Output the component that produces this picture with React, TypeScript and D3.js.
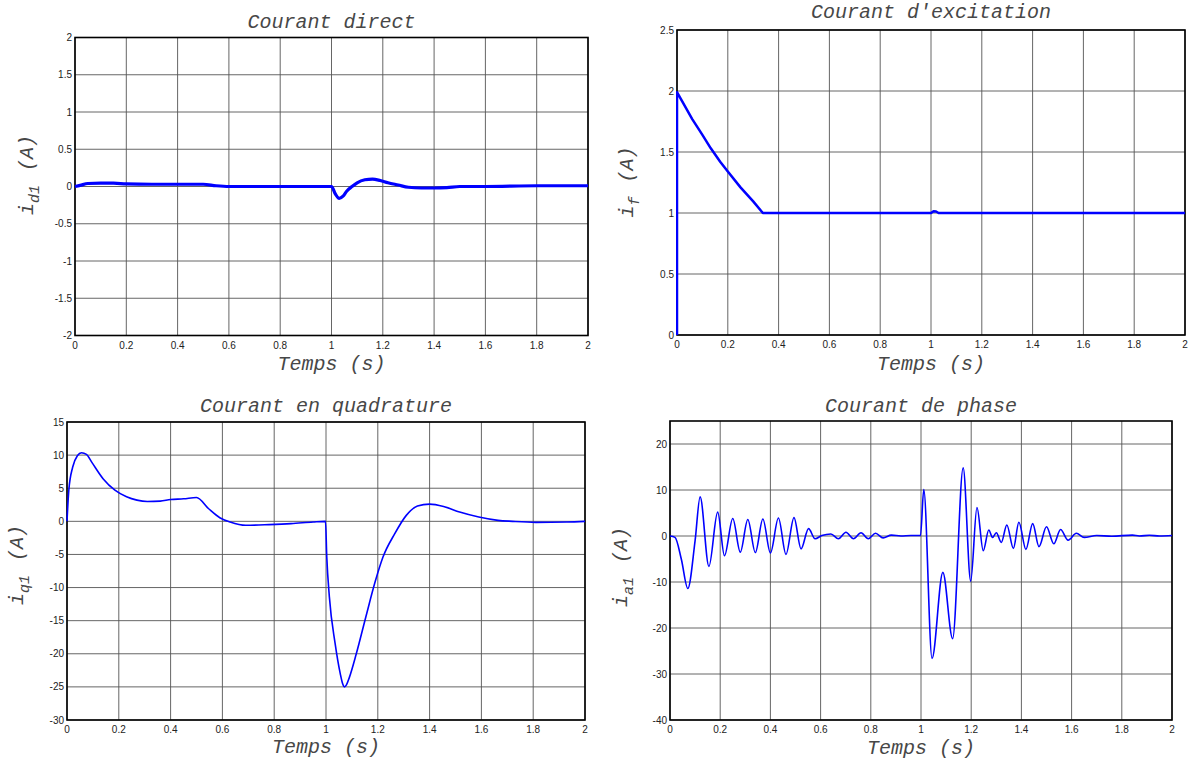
import React from "react";
import * as d3 from "d3";

// ---------- data ----------
const X_TICKS = [0, 0.2, 0.4, 0.6, 0.8, 1, 1.2, 1.4, 1.6, 1.8, 2];

// Courant direct i_d1
const T_D = [0, 0.02, 0.05, 0.1, 0.15, 0.2, 0.3, 0.4, 0.5, 0.55, 0.6, 0.7, 0.8, 0.9, 0.99, 1.0, 1.015, 1.03, 1.045, 1.06, 1.08, 1.1, 1.13, 1.16, 1.19, 1.22, 1.26, 1.3, 1.35, 1.4, 1.45, 1.5, 1.6, 1.8, 2.0];
const I_D = [0, 0.015, 0.04, 0.045, 0.045, 0.035, 0.03, 0.03, 0.03, 0.01, 0.0, 0.0, 0.0, 0.0, 0.0, 0.0, -0.1, -0.16, -0.13, -0.06, 0.0, 0.05, 0.09, 0.1, 0.08, 0.05, 0.02, -0.01, -0.02, -0.02, -0.015, 0, 0.0, 0.01, 0.01];
const Y_TICKS_D = [-2, -1.5, -1, -0.5, 0, 0.5, 1, 1.5, 2];

// Courant d'excitation i_f
const T_F = [0, 0, 0.03, 0.06, 0.1, 0.133, 0.17, 0.2, 0.25, 0.3, 0.338, 0.5, 1.0, 1.01, 1.02, 1.03, 1.2, 1.4, 1.6, 2.0];
const I_F = [0, 1.99, 1.88, 1.77, 1.64, 1.53, 1.42, 1.34, 1.21, 1.095, 1.0, 1.0, 1.0, 1.015, 1.012, 1.0, 1.0, 1.0, 1.0, 1.0];
const Y_TICKS_F = [0, 0.5, 1, 1.5, 2, 2.5];

// Courant en quadrature i_q1
const T_Q = [0, 0.007, 0.022, 0.04, 0.056, 0.075, 0.096, 0.14, 0.185, 0.23, 0.27, 0.31, 0.36, 0.4, 0.45, 0.5, 0.547, 0.59, 0.63, 0.69, 0.78, 0.865, 0.95, 0.998, 1.003, 1.013, 1.035, 1.055, 1.064, 1.071, 1.079, 1.09, 1.117, 1.154, 1.19, 1.22, 1.265, 1.31, 1.353, 1.4, 1.457, 1.516, 1.59, 1.664, 1.72, 1.81, 1.93, 2.0];
const I_Q = [0, 4.7, 8.2, 9.9, 10.35, 10.1, 8.9, 6.4, 4.7, 3.7, 3.2, 3.0, 3.05, 3.3, 3.4, 3.6, 1.9, 0.55, -0.1, -0.6, -0.5, -0.35, -0.1, 0, -5.4, -11.4, -18.4, -23.0, -24.5, -25, -24.7, -23.6, -20, -14.4, -9.1, -5.4, -1.9, 0.9, 2.3, 2.6, 2.2, 1.4, 0.65, 0.15, 0, -0.15, -0.1, 0];
const Y_TICKS_Q = [-30, -25, -20, -15, -10, -5, 0, 5, 10, 15];

// Courant de phase i_a1
const T_A = [0, 0.02, 0.045, 0.071, 0.1, 0.12, 0.155, 0.19, 0.217, 0.25, 0.28, 0.31, 0.34, 0.37, 0.4, 0.432, 0.462, 0.494, 0.522, 0.552, 0.578, 0.605, 0.641, 0.671, 0.701, 0.731, 0.761, 0.79, 0.819, 0.849, 0.882, 0.92, 0.96, 0.998, 1.011, 1.044, 1.087, 1.126, 1.168, 1.198, 1.223, 1.248, 1.27, 1.285, 1.3, 1.32, 1.342, 1.368, 1.39, 1.418, 1.445, 1.47, 1.5, 1.529, 1.556, 1.586, 1.619, 1.65, 1.7, 1.76, 1.842, 1.87, 1.91, 1.95, 2.0];
const I_A = [0, -0.3, -5, -11.4, -1, 8.5, -6.6, 5.2, -4.3, 3.8, -3.5, 3.6, -3.6, 3.7, -3.7, 3.9, -4.0, 4.0, -2.8, 1.6, -0.6, 0.1, 0.45, -0.6, 0.8, -0.6, 0.7, -0.6, 0.6, -0.4, 0.2, 0.0, 0.1, 0.1, 10.1, -26.6, -7.9, -22.3, 14.8, -9.8, 6.2, -3.2, 1.3, -0.3, 0.7, -1.4, 2.4, -2.7, 3.0, -2.9, 2.7, -2.3, 2.0, -1.7, 1.4, -0.9, 0.6, -0.3, 0.1, -0.05, 0.2, 0.0, 0.15, 0.0, 0.1];
const Y_TICKS_A = [-40, -30, -20, -10, 0, 10, 20];

// ---------- layout ----------
type Panel = {
  id: string; left: number; right: number; top: number; bottom: number;
  yDomain: [number, number]; yTicks: number[]; t: number[]; v: number[];
  title: string; sub: string; titleY: number; xlabY: number; ylabX: number; ylabY: number;
  lw: number; curve: any;
};

const panels: Panel[] = [
  { id: "d", left: 75, right: 588, top: 37.5, bottom: 335.5, yDomain: [-2, 2], yTicks: Y_TICKS_D, t: T_D, v: I_D,
    title: "Courant direct", sub: "d1", titleY: 28, xlabY: 370, ylabX: 33, ylabY: 175, lw: 3.2, curve: d3.curveMonotoneX },
  { id: "f", left: 677, right: 1185, top: 30, bottom: 335, yDomain: [0, 2.5], yTicks: Y_TICKS_F, t: T_F, v: I_F,
    title: "Courant d'excitation", sub: "f", titleY: 18, xlabY: 370, ylabX: 633, ylabY: 182, lw: 2.5, curve: d3.curveLinear },
  { id: "q", left: 67, right: 585, top: 422, bottom: 720, yDomain: [-30, 15], yTicks: Y_TICKS_Q, t: T_Q, v: I_Q,
    title: "Courant en quadrature", sub: "q1", titleY: 412, xlabY: 753, ylabX: 23, ylabY: 565, lw: 1.6, curve: d3.curveMonotoneX },
  { id: "a", left: 670, right: 1172, top: 421, bottom: 720, yDomain: [-40, 25], yTicks: Y_TICKS_A, t: T_A, v: I_A,
    title: "Courant de phase", sub: "a1", titleY: 412, xlabY: 754, ylabX: 627, ylabY: 567, lw: 1.6, curve: d3.curveMonotoneX },
];

const LABEL_FONT = "'Liberation Mono', 'Courier New', monospace";
const TICK_FONT = "'Liberation Sans', Arial, sans-serif";
const LABEL_COLOR = "#474747";

function fmt(v: number) {
  return String(Math.round(v * 10) / 10);
}

function PanelView({ p }: { p: Panel }) {
  const x = d3.scaleLinear().domain([0, 2]).range([p.left, p.right]);
  const y = d3.scaleLinear().domain(p.yDomain).range([p.bottom, p.top]);
  const data = p.t.map((t, i) => [t, p.v[i]] as [number, number]);
  const line = d3.line<[number, number]>().x((d) => x(d[0])).y((d) => y(d[1])).curve(p.curve);
  const cx = (p.left + p.right) / 2;
  return (
    <g>
      <defs>
        <clipPath id={"clip-" + p.id}>
          <rect x={p.left - 1} y={p.top} width={p.right - p.left + 1} height={p.bottom - p.top} />
        </clipPath>
      </defs>
      <rect x={p.left} y={p.top} width={p.right - p.left} height={p.bottom - p.top} fill="#fff" />
      {X_TICKS.map((t) => (
        <line key={"gx" + t} x1={x(t)} x2={x(t)} y1={p.top} y2={p.bottom} stroke="#555" strokeWidth={0.9} />
      ))}
      {p.yTicks.map((v) => (
        <line key={"gy" + v} x1={p.left} x2={p.right} y1={y(v)} y2={y(v)} stroke="#555" strokeWidth={0.9} />
      ))}
      <rect x={p.left} y={p.top} width={p.right - p.left} height={p.bottom - p.top} fill="none" stroke="#000" strokeWidth={1.6} />
      <path d={line(data) || ""} fill="none" stroke="#0000ff" strokeWidth={p.lw} strokeLinejoin="round" clipPath={`url(#clip-${p.id})`} />
      {X_TICKS.map((t) => (
        <text key={"tx" + t} x={x(t)} y={p.bottom + 13} textAnchor="middle" fontFamily={TICK_FONT} fontSize={10} fill="#222">
          {fmt(t)}
        </text>
      ))}
      {p.yTicks.map((v) => (
        <text key={"ty" + v} x={p.left - 3} y={y(v)} dy="0.35em" textAnchor="end" fontFamily={TICK_FONT} fontSize={10} fill="#222">
          {fmt(v)}
        </text>
      ))}
      <text x={cx} y={p.titleY} textAnchor="middle" fontFamily={LABEL_FONT} fontStyle="italic" fontSize={20} fill={LABEL_COLOR}>
        {p.title}
      </text>
      <text x={cx} y={p.xlabY} textAnchor="middle" fontFamily={LABEL_FONT} fontStyle="italic" fontSize={20} fill={LABEL_COLOR}>
        Temps (s)
      </text>
      <text transform={`translate(${p.ylabX},${p.ylabY}) rotate(-90)`} textAnchor="middle" fontFamily={LABEL_FONT} fontStyle="italic" fontSize={20} fill={LABEL_COLOR}>
        i
        <tspan dy={6} fontSize={15}>{p.sub}</tspan>
        <tspan dy={-6} dx={14}>(A)</tspan>
      </text>
    </g>
  );
}

export default function App() {
  return (
    <svg width={1192} height={762} style={{ position: "absolute", left: 0, top: 0, background: "#fff" }}>
      <rect x={0} y={0} width={1192} height={762} fill="#fff" />
      {panels.map((p) => (
        <PanelView key={p.id} p={p} />
      ))}
    </svg>
  );
}
